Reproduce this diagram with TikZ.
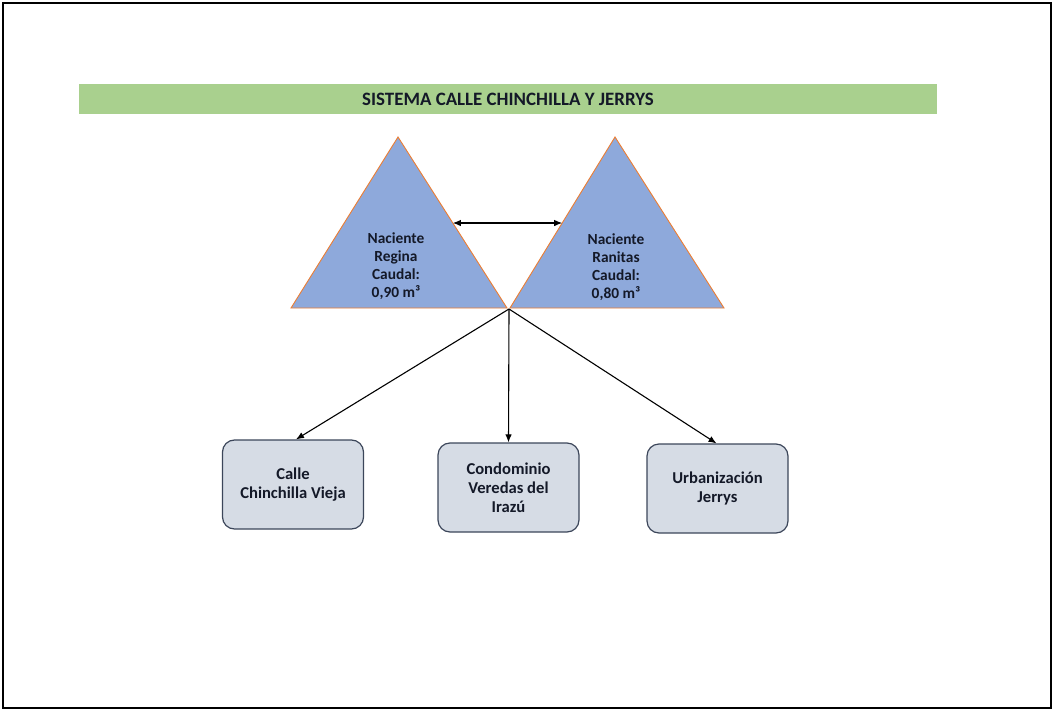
\documentclass[tikz,border=0pt]{standalone}
\usepackage{fontspec}
\setmainfont{Carlito}
\usepackage{tikz}
\usetikzlibrary{arrows.meta,positioning,calc}
\definecolor{bargreen}{RGB}{169,208,142}
\definecolor{triblue}{RGB}{142,169,219}
\definecolor{triedge}{RGB}{237,125,49}
\definecolor{boxfill}{RGB}{214,220,229}
\definecolor{boxedge}{RGB}{60,70,90}
\definecolor{txt}{RGB}{20,25,40}

\begin{document}
\begin{tikzpicture}[
    x=1pt, y=-1pt,
    tri/.style={fill=triblue, draw=triedge, line width=0.9pt},
    dest/.style={rectangle, draw=boxedge, fill=boxfill, rounded corners=12pt,
                 line width=1.2pt, minimum width=141pt, minimum height=89pt,
                 text=txt, font=\fontsize{16.6}{19}\selectfont\bfseries, align=center},
    trilabel/.style={text=txt, font=\fontsize{15.4}{18}\selectfont\bfseries, align=center},
    arrow/.style={-{Latex[length=8pt,width=6.5pt]}, line width=1.1pt},
]
\useasboundingbox (0,0) rectangle (1054,711);
\draw[line width=2.5pt] (3,3) rectangle (1051,708);
% title bar
\node[fill=bargreen, minimum width=858pt, minimum height=30pt, inner sep=0pt,
      text=txt, font=\fontsize{18.9}{20}\selectfont\bfseries] (title) at (508,99)
      {SISTEMA CALLE CHINCHILLA Y JERRYS};
% springs
\coordinate (ltop) at (398,137);
\coordinate (lbl) at (291,308);
\coordinate (lbr) at (507,308);
\coordinate (rtop) at (615,137);
\coordinate (rbl) at (510,308);
\coordinate (rbr) at (724,308);
\coordinate (src) at (509,309);
\draw[tri] (ltop) -- (lbr) -- (lbl) -- cycle;
\draw[tri] (rtop) -- (rbr) -- (rbl) -- cycle;
\node[trilabel] (regina) at (396,266) {Naciente\\Regina\\Caudal:\\0,90 m³};
\node[trilabel] (ranitas) at (616,267) {Naciente\\Ranitas\\Caudal:\\0,80 m³};
\draw[{Latex[length=8pt,width=6.5pt]}-{Latex[length=8pt,width=6.5pt]}, line width=1.1pt]
    ($(ltop)!0.503!(lbr)$) -- ($(rtop)!0.503!(rbl)$);
% destinations
\node[dest] (calle) at (293,484.5) {Calle\\Chinchilla Vieja};
\node[dest] (condo) at (508.5,487.5) {Condominio\\Veredas del\\Irazú};
\node[dest] (urba) at (717.5,488.5) {Urbanización\\Jerrys};
\draw[arrow] (src) -- ([xshift=3pt]calle.north);
\draw[arrow] (src) -- (condo.north);
\draw[arrow] (src) -- ([xshift=-1pt]urba.north);
\end{tikzpicture}
\end{document}
